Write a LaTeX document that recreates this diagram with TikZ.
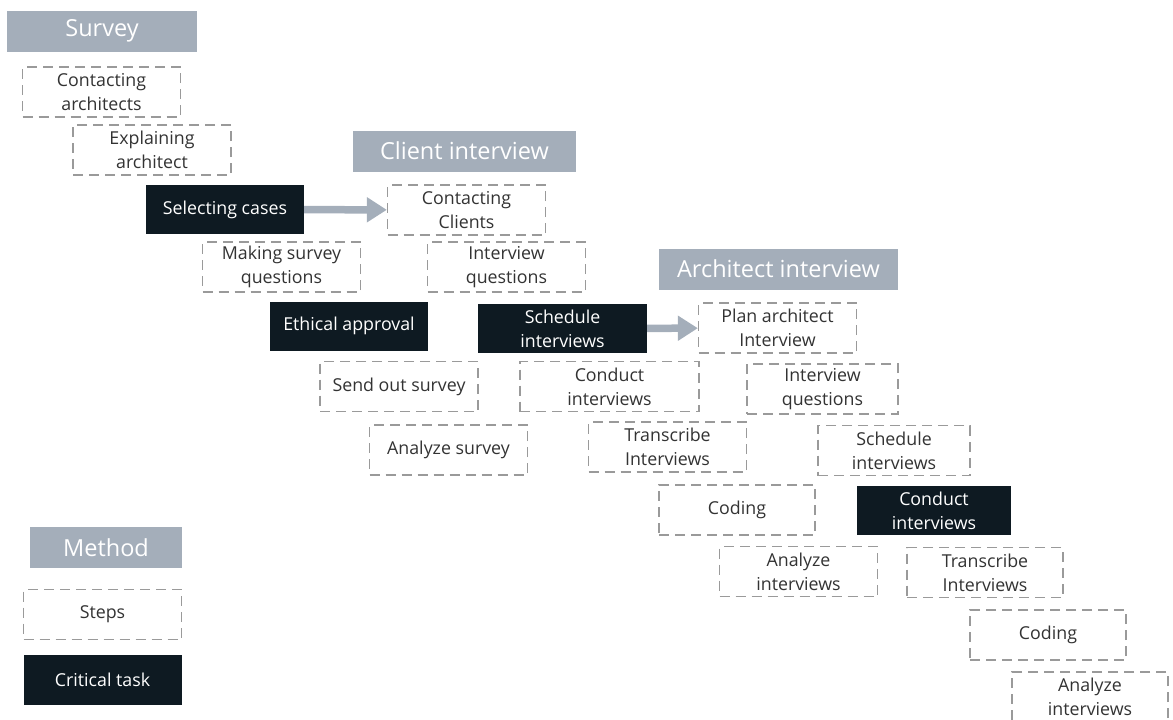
\documentclass[tikz,border=0pt]{standalone}
\usepackage{fontspec}
\setmainfont{Open Sans}
\usetikzlibrary{arrows.meta,positioning}
\definecolor{hdrgray}{HTML}{A4AEBA}
\definecolor{taskblack}{HTML}{0E1A22}
\definecolor{dashgray}{HTML}{9A9A9A}
\tikzset{
  header/.style={fill=hdrgray, text=white, inner sep=0pt, minimum height=41pt,
    font=\fontsize{23.5}{26}\selectfont},
  stepbox/.style={draw=dashgray, line width=1.3pt, dash pattern=on 10pt off 6pt,
    fill=white, text=black!80, inner sep=0pt, minimum width=158pt, minimum height=50pt,
    align=center, font=\fontsize{17.8}{24}\selectfont},
  critbox/.style={fill=taskblack, text=white, inner sep=0pt, minimum width=158pt,
    minimum height=49pt, align=center, font=\fontsize{17.8}{24}\selectfont},
  flow/.style={hdrgray, line width=7.5pt, -{Triangle[length=20pt,width=24pt]}}
}
\begin{document}
\begin{tikzpicture}[x=1pt,y=-1pt]
    \useasboundingbox (0,0) rectangle (1173,720);

    % Survey
    \node[header, minimum width=190pt] (surveyH) at (102,31) {Survey};
    \node[stepbox] (contArch) at (101.5,92) {Contacting\\architects};
    \node[stepbox] (explArch) at (152,150) {Explaining\\architect};
    \node[critbox] (selCases) at (225,209.5) {Selecting cases};
    \node[stepbox] (surveyQ) at (281.5,267) {Making survey\\questions};
    \node[critbox] (ethics) at (349,326) {Ethical approval};
    \node[stepbox] (sendSurvey) at (399,386.5) {Send out survey};
    \node[stepbox] (anaSurvey) at (448.5,450) {Analyze survey};

    % Client interview
    \node[header, minimum width=223pt] (clientH) at (464.5,151) {Client interview};
    \node[stepbox] (contClient) at (466.5,210) {Contacting\\Clients};
    \node[stepbox] (clientQ) at (506.5,267) {Interview\\questions};
    \node[critbox, minimum width=169pt] (clientSched) at (562.5,328.5) {Schedule\\interviews};
    \node[stepbox, minimum width=179pt] (clientCond) at (609.5,386.5) {Conduct\\interviews};
    \node[stepbox] (clientTrans) at (667.5,447) {Transcribe\\Interviews};
    \node[stepbox, minimum width=156pt] (clientCode) at (737,510) {Coding};
    \node[stepbox] (clientAna) at (798.5,571.5) {Analyze\\interviews};

    % Architect interview
    \node[header, minimum width=239pt] (archH) at (778.5,269) {Architect interview};
    \node[stepbox] (planArch) at (777.5,328) {Plan architect\\Interview};
    \node[stepbox, minimum width=151pt] (archQ) at (822.5,389) {Interview\\questions};
    \node[stepbox, minimum width=152pt] (archSched) at (894,450.5) {Schedule\\interviews};
    \node[critbox, minimum width=154pt] (archCond) at (934,510.5) {Conduct\\interviews};
    \node[stepbox, minimum width=156pt] (archTrans) at (985,572.5) {Transcribe\\Interviews};
    \node[stepbox, minimum width=156pt] (archCode) at (1048,635) {Coding};
    \node[stepbox, minimum width=156pt] (archAna) at (1090,697) {Analyze\\interviews};

    % links between phases
    \draw[flow] (selCases) -- (contClient);
    \draw[flow] (clientSched) -- (planArch);

    % legend
    \node[header, minimum width=152pt] (methodH) at (106,547.5) {Method};
    \node[stepbox] (legStep) at (102.5,614.5) {Steps};
    \node[critbox, minimum height=50pt] (legCrit) at (102.5,680) {Critical task};
\end{tikzpicture}
\end{document}
